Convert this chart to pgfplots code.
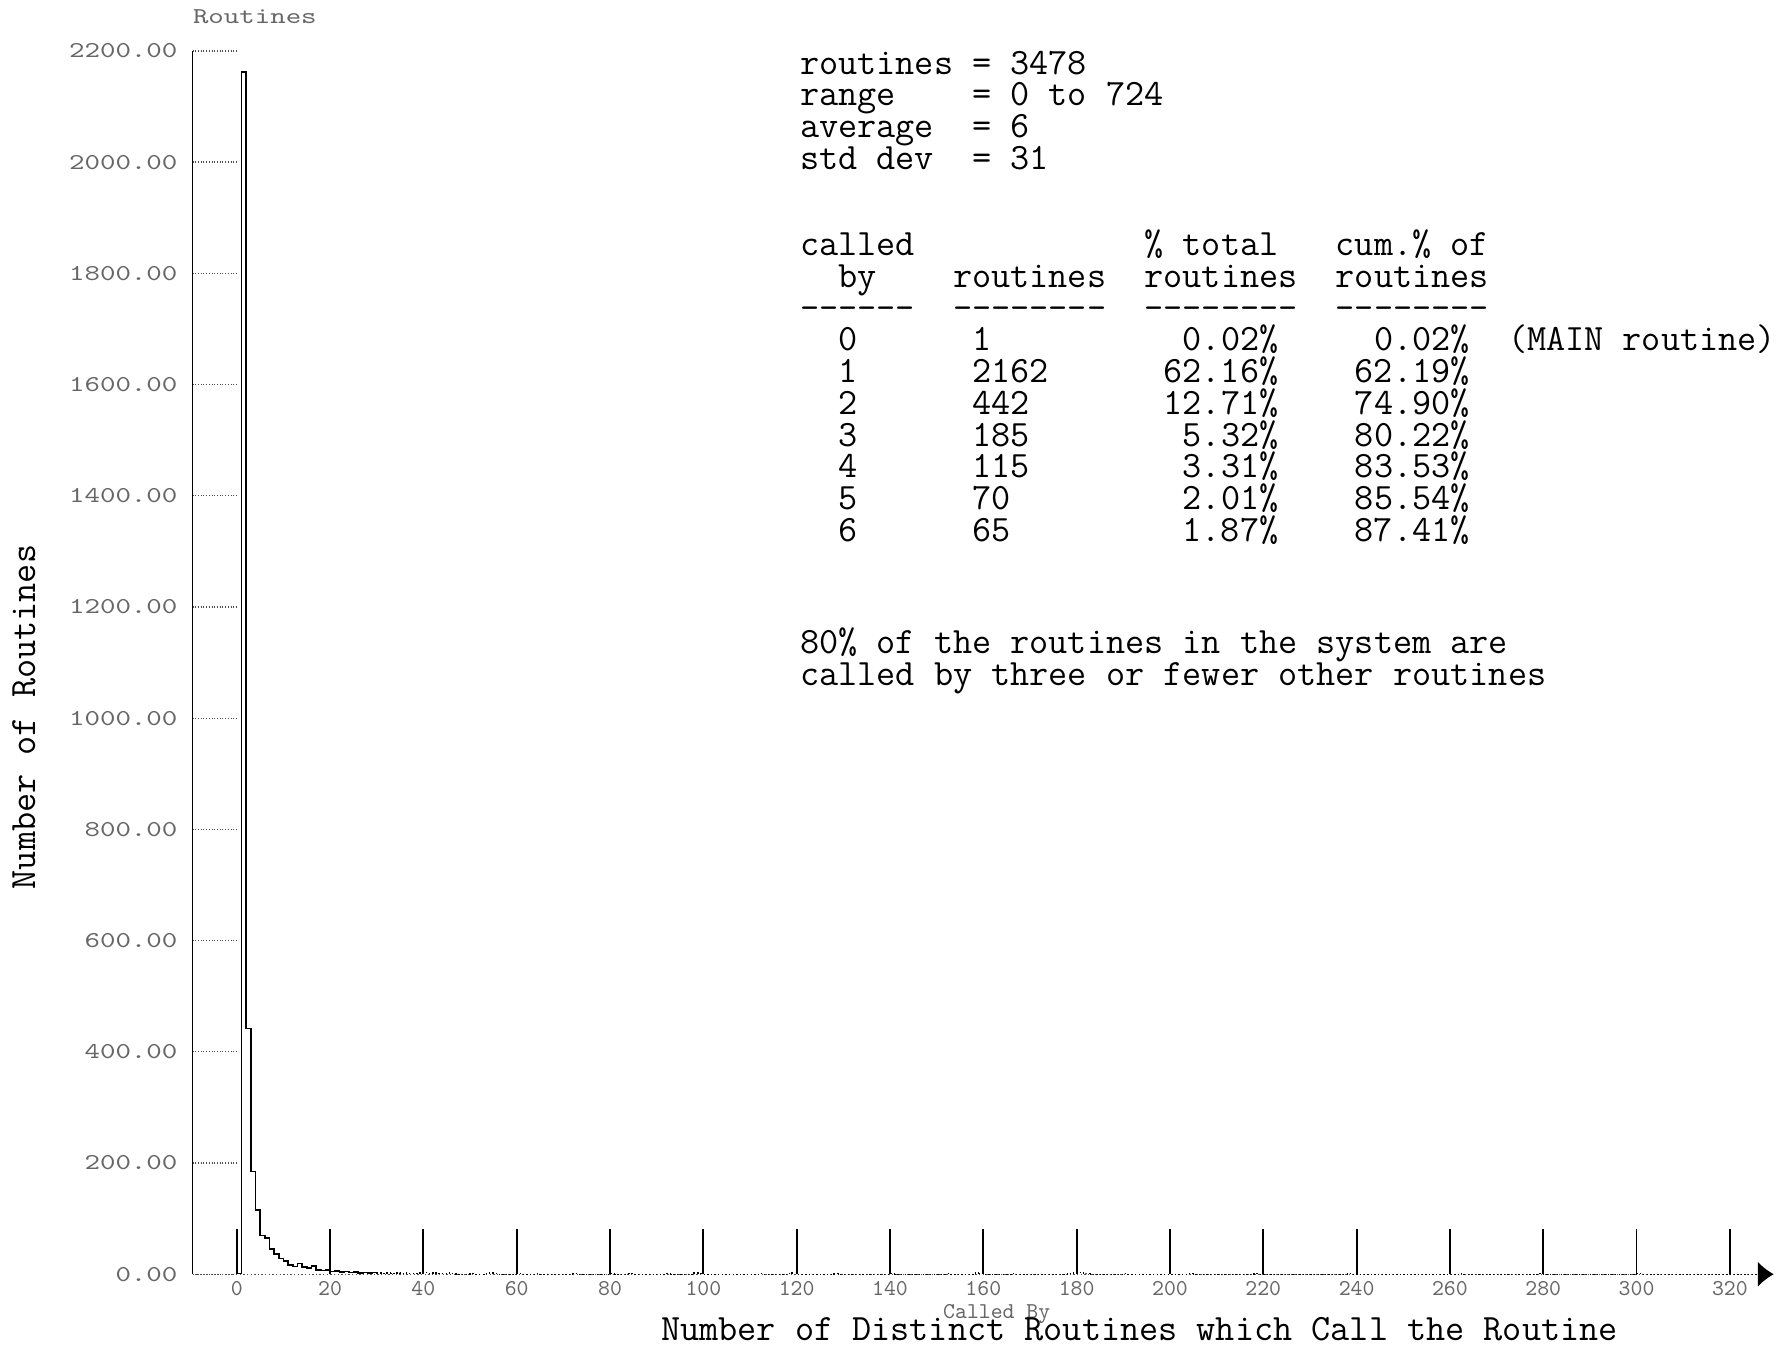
\documentclass[border=0pt]{standalone}
\usepackage{pgfplots}
\pgfplotsset{compat=1.18}
\usetikzlibrary{arrows.meta}
\newcommand\sx[1]{\scalebox{1.3}[1]{#1}}
\newcommand\ticktt{\ttfamily\fontsize{10}{10}\selectfont}
\newcommand\bigtt{\ttfamily\fontsize{16.4}{14}\selectfont}
\begin{document}
\begin{tikzpicture}
\begin{axis}[
  at={(0,0)}, anchor=south west,
  scale only axis, width=698pt, height=540pt,
  xmin=-9.47, xmax=329.4, ymin=0, ymax=2200,
  axis x line=bottom, axis y line=left,
  x axis line style={densely dotted, black!70, line width=0.6pt, -{Latex[length=7pt,width=11pt,black]}},
  y axis line style={-, black, line width=0.7pt},
  xtick={0,20,40,60,80,100,120,140,160,180,200,220,240,260,280,300,320},
  xticklabels={0,20,40,60,80,100,120,140,160,180,200,220,240,260,280,300,320},
  ytick={0,200,400,600,800,1000,1200,1400,1600,1800,2000,2200},
  yticklabels={\sx{0.00},\sx{200.00},\sx{400.00},\sx{600.00},\sx{800.00},\sx{1000.00},\sx{1200.00},\sx{1400.00},\sx{1600.00},\sx{1800.00},\sx{2000.00},\sx{2200.00}},
  tick align=inside,
  major tick length=20pt,
  xtick style={black, solid, line width=0.8pt},
  ytick style={black!70, densely dotted, line width=0.6pt},
  xticklabel style={font=\ticktt, text=black!60, anchor=north, inner sep=0pt, yshift=-3pt},
  yticklabel style={font=\ticktt, text=black!60, anchor=east, inner sep=0pt, xshift=-6.5pt},
]
\addplot[const plot, black, line width=0.7pt] coordinates {
(0,1) (1,2162) (2,442) (3,185) (4,115) (5,70) (6,65) (7,45) (8,36) (9,28)
(10,24) (11,17) (12,14) (13,19) (14,13) (15,11) (16,15) (17,8) (18,7) (19,8)
(20,5) (21,6) (22,4) (23,5) (24,3) (25,4) (26,2) (27,3) (28,2) (29,3) (30,2)
};
\addplot[const plot, black, densely dotted, line width=0.6pt] coordinates {
(30,2) (31,1) (32,2) (33,1) (34,2) (35,1) (36,2) (37,1) (38,1) (39,2) (40,3)
(41,1) (42,2) (43,1) (44,1) (45,2) (46,1) (47,0) (50,1) (51,0) (53,1) (54,2)
(55,1) (56,0) (60,1) (61,0) (64,1) (65,0) (72,1) (73,0) (80,1) (81,0) (84,1)
(85,0) (92,1) (93,0) (98,2) (99,1) (100,0) (112,1) (113,0) (118,1) (119,2)
(120,0) (128,1) (129,0) (140,1) (141,0) (152,1) (153,0) (158,2) (159,1)
(160,0) (166,1) (167,0) (178,1) (179,2) (180,3) (181,2) (182,1) (183,0)
(190,1) (191,0) (204,1) (205,0) (218,1) (219,0) (238,1) (239,0) (262,1)
(263,0) (279,1) (280,0) (300,1) (301,0) (329,0)
};
\end{axis}
% labels
\node[font=\ticktt, text=black!60, anchor=base] at (27.5pt,552pt) {\sx{Routines}};
\node[font=\ticktt, text=black!60, anchor=base, text height=6pt, text depth=0pt] at (355pt,-19.5pt) {Called By};
\node[font=\bigtt, anchor=base, text height=10pt, text depth=0pt] at (418pt,-29.3pt) {Number~of~Distinct~Routines~which~Call~the~Routine};
\node[font=\bigtt, rotate=90, anchor=center] at (-74.5pt,246pt) {Number~of~Routines};
% statistics block
\begin{scope}[every node/.style={font=\bigtt, anchor=base west, inner sep=0pt, text height=10.5pt, text depth=2.5pt}]
\node at (268pt,529.75pt) {routines~=~3478};
\node at (268pt,515.75pt) {range~~~~=~0~to~724};
\node at (268pt,501.75pt) {average~~=~6};
\node at (268pt,487.75pt) {std~dev~~=~31};
\node at (268pt,449.6pt) {called~~~~~~~~~~~~\%~total~~~cum.\%~of};
\node at (268pt,435.6pt) {~~by~~~~routines~~routines~~routines};
\node at (268pt,421.6pt) {-{}-{}-{}-{}-{}-~~-{}-{}-{}-{}-{}-{}-{}-~~-{}-{}-{}-{}-{}-{}-{}-~~-{}-{}-{}-{}-{}-{}-{}-};
\node at (268pt,407.6pt) {~~0~~~~~~1~~~~~~~~~~0.02\%~~~~~0.02\%~~(MAIN~routine)};
\node at (268pt,393.6pt) {~~1~~~~~~2162~~~~~~62.16\%~~~~62.19\%};
\node at (268pt,379.6pt) {~~2~~~~~~442~~~~~~~12.71\%~~~~74.90\%};
\node at (268pt,365.6pt) {~~3~~~~~~185~~~~~~~~5.32\%~~~~80.22\%};
\node at (268pt,351.6pt) {~~4~~~~~~115~~~~~~~~3.31\%~~~~83.53\%};
\node at (268pt,337.6pt) {~~5~~~~~~70~~~~~~~~~2.01\%~~~~85.54\%};
\node at (268pt,323.6pt) {~~6~~~~~~65~~~~~~~~~1.87\%~~~~87.41\%};
\node at (268pt,274.1pt) {80\%~of~the~routines~in~the~system~are};
\node at (268pt,260.1pt) {called~by~three~or~fewer~other~routines};
\end{scope}
\pgfresetboundingbox
\path[use as bounding box] (-85pt,-31.5pt) rectangle (699pt,562.5pt);
\end{tikzpicture}
\end{document}
